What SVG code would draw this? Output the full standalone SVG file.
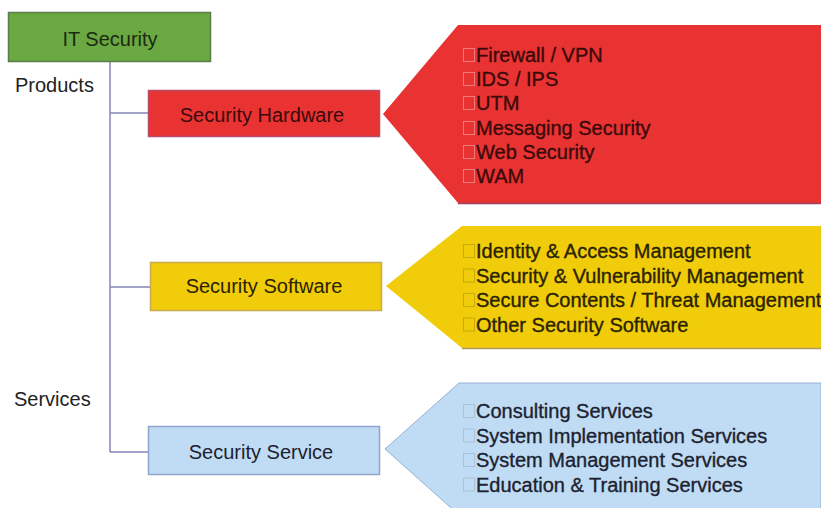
<svg xmlns="http://www.w3.org/2000/svg" width="821" height="508" viewBox="0 0 821 508">
<style>
text{font-family:"Liberation Sans",Arial,sans-serif}
.lbl{font-size:20px;text-anchor:middle}
.side{font-size:20px;fill:#222}
.item{font-size:20px;stroke-width:0.35}
.tofu{fill:none;stroke-width:1;stroke-opacity:0.35}
.conn{fill:none;stroke:#8585b5;stroke-width:1.5}
</style>
<rect width="821" height="508" fill="#fff"/>
<g id="connectors">
<path class="conn" d="M110,62V452"/>
<path class="conn" d="M110,113H148"/>
<path class="conn" d="M110,287H150"/>
<path class="conn" d="M110,452H148"/>
</g>
<g id="it-security">
<rect x="8.5" y="12.5" width="202" height="49" fill="#6aa842" stroke="#5b7d4b" stroke-width="1.5"/>
<text class="lbl" x="110" y="46" fill="#1c2a12">IT Security</text>
</g>
<text class="side" x="15" y="92">Products</text>
<text class="side" x="14" y="406">Services</text>
<g id="security-hardware">
<rect x="148.5" y="90.5" width="231" height="46" fill="#e93333" stroke="#b84a6a" stroke-width="1.5"/>
<text class="lbl" x="262" y="122" fill="#3a0a0a">Security Hardware</text>
</g>
<g id="hardware-list">
<polygon points="383,114 458,25 821,25 821,203 458,203" fill="#e93333"/>
<line x1="458" y1="203.5" x2="821" y2="203.5" stroke="#a04060" stroke-width="1.5"/>
<g stroke="#ffffff" class="tofu">
<rect x="463.5" y="48.5" width="11" height="13"/>
<rect x="463.5" y="72.5" width="11" height="13"/>
<rect x="463.5" y="96.5" width="11" height="13"/>
<rect x="463.5" y="121.5" width="11" height="13"/>
<rect x="463.5" y="145.5" width="11" height="13"/>
<rect x="463.5" y="169.5" width="11" height="13"/>
</g>
<g class="item" fill="#3a0a0a" stroke="#3a0a0a">
<text x="476" y="62">Firewall / VPN</text>
<text x="476" y="86">IDS / IPS</text>
<text x="476" y="110">UTM</text>
<text x="476" y="135">Messaging Security</text>
<text x="476" y="159">Web Security</text>
<text x="476" y="183">WAM</text>
</g>
</g>
<g id="security-software">
<rect x="150.5" y="262.5" width="231" height="48" fill="#f0cc0a" stroke="#c8aa50" stroke-width="1.5"/>
<text class="lbl" x="264" y="293" fill="#2a2200">Security Software</text>
</g>
<g id="software-list">
<polygon points="386,286 462,226 821,226 821,348 462,348" fill="#f0cc0a"/>
<line x1="462" y1="348.5" x2="821" y2="348.5" stroke="#b09a60" stroke-width="1.5"/>
<g stroke="#806a00" class="tofu">
<rect x="463.5" y="244.5" width="11" height="13"/>
<rect x="463.5" y="269" width="11" height="13"/>
<rect x="463.5" y="293.5" width="11" height="13"/>
<rect x="463.5" y="318" width="11" height="13"/>
</g>
<g class="item" fill="#2a2200" stroke="#2a2200">
<text x="476" y="258">Identity &amp; Access Management</text>
<text x="476" y="282.5">Security &amp; Vulnerability Management</text>
<text x="476" y="307">Secure Contents / Threat Management</text>
<text x="476" y="331.5">Other Security Software</text>
</g>
</g>
<g id="security-service">
<rect x="148.5" y="426.5" width="231" height="48" fill="#c0dcf4" stroke="#8ea6cc" stroke-width="1.5"/>
<text class="lbl" x="261" y="459" fill="#1c2230">Security Service</text>
</g>
<g id="service-list">
<polygon points="385,449 459,383 821,383 821,515 459,515" fill="#c0dcf4" stroke="#98b2d4" stroke-width="1"/>
<g stroke="#8090a8" class="tofu">
<rect x="463.5" y="404.5" width="11" height="13"/>
<rect x="463.5" y="429" width="11" height="13"/>
<rect x="463.5" y="453.5" width="11" height="13"/>
<rect x="463.5" y="478" width="11" height="13"/>
</g>
<g class="item" fill="#1c2230" stroke="#1c2230">
<text x="476" y="418">Consulting Services</text>
<text x="476" y="442.5">System Implementation Services</text>
<text x="476" y="467">System Management Services</text>
<text x="476" y="491.5">Education &amp; Training Services</text>
</g>
</g>
</svg>
